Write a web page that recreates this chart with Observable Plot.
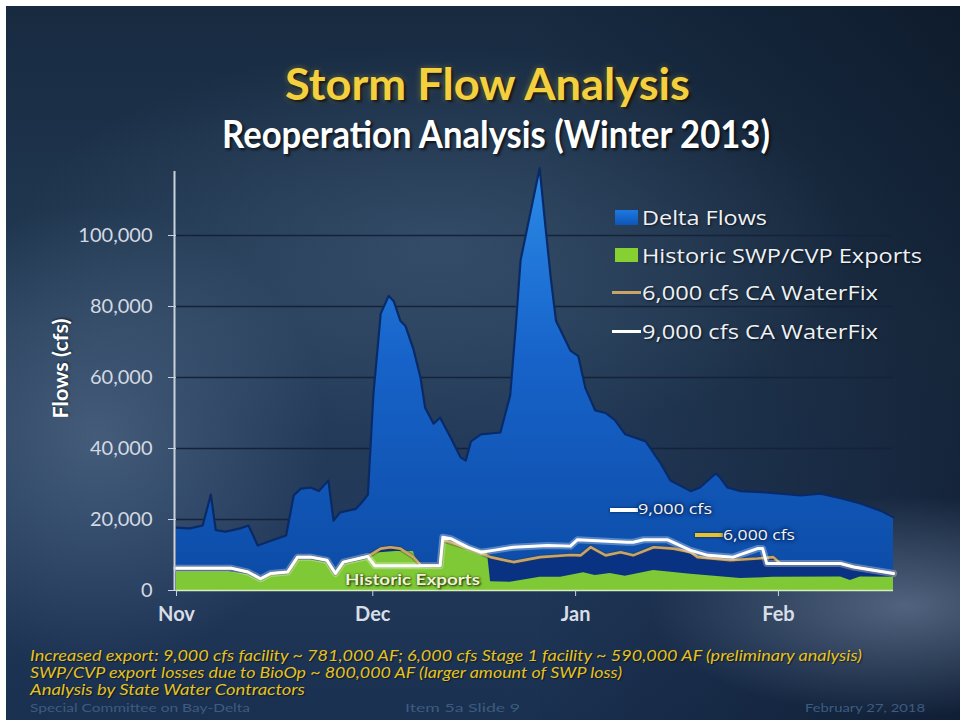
<!DOCTYPE html>
<html>
<head>
<meta charset="utf-8">
<script src="https://cdn.jsdelivr.net/npm/d3@7"></script>
<script src="https://cdn.jsdelivr.net/npm/@observablehq/plot@0.6"></script>
<style>
  html, body { margin: 0; padding: 0; background: #ffffff; }
  #page { position: relative; width: 965px; height: 726px; overflow: hidden; background: #ffffff; font-family: Lato, "Open Sans", sans-serif; }
  #slide { position: absolute; left: 6px; top: 6px; width: 954px; height: 714px;
    background:
      radial-gradient(ellipse 260px 110px at 900px 600px, rgba(130,150,180,0.55), rgba(130,150,180,0) 100%),
      radial-gradient(ellipse 230px 230px at 90px 430px, rgba(95,120,150,0.55), rgba(95,120,150,0) 100%),
      radial-gradient(ellipse 420px 200px at 430px 240px, rgba(75,100,130,0.45), rgba(75,100,130,0) 100%),
      linear-gradient(90deg, rgba(0,0,0,0) 55%, rgba(4,10,22,0.45) 100%),
      linear-gradient(180deg, #172a40 0%, #243c57 45%, #22395a 75%, #1a3050 100%);
  }
  .txt { position: absolute; white-space: nowrap; display: inline-block; transform-origin: 0 50%; }
  #chart { position: absolute; left: 0; top: 150px; }
  .sw { position: absolute; }
</style>
</head>
<body>
<div id="page">
  <div id="slide"></div>
  <div id="chart"></div>
</div>
<script>
// ---------------- data ----------------
const titleText = "Storm Flow Analysis";
const subtitleText = "Reoperation Analysis (Winter 2013)";
const yAxisTitle = "Flows (cfs)";
const seriesNames = ["Delta Flows", "Historic SWP/CVP Exports", "6,000 cfs CA WaterFix", "9,000 cfs CA WaterFix"];
const monthTicks = ["2012-11-01", "2012-12-01", "2013-01-01", "2013-02-01"];
const yTicks = [0, 20000, 40000, 60000, 80000, 100000];

const deltaFlows = [
  ["2012-11-01", 17700], ["2012-11-03", 17500], ["2012-11-05", 18300], ["2012-11-06T06", 27000],
  ["2012-11-07", 17000], ["2012-11-08T12", 16600], ["2012-11-10T18", 17500], ["2012-11-12", 18300],
  ["2012-11-13T10", 12700], ["2012-11-15T10", 14000], ["2012-11-17T18", 15500], ["2012-11-18T22", 26800],
  ["2012-11-20", 28700], ["2012-11-21T12", 29000], ["2012-11-22T18", 28000], ["2012-11-24T05", 31000],
  ["2012-11-25", 19700], ["2012-11-26", 22000], ["2012-11-28T10", 23000], ["2012-11-29T10", 25000],
  ["2012-11-30T06", 27000], ["2012-12-01T02", 55000], ["2012-12-02T05", 78000], ["2012-12-03T10", 83000],
  ["2012-12-04T05", 81500], ["2012-12-05T05", 76000], ["2012-12-06", 74500], ["2012-12-07T05", 68000],
  ["2012-12-08T07", 60000], ["2012-12-09", 51500], ["2012-12-10T07", 47000], ["2012-12-11T07", 48700],
  ["2012-12-12T22", 43000], ["2012-12-14T10", 37500], ["2012-12-15T05", 36600], ["2012-12-16", 42000],
  ["2012-12-17T12", 44000], ["2012-12-20T12", 44500], ["2012-12-22", 55000], ["2012-12-22T20", 74000],
  ["2012-12-23T14", 93000], ["2012-12-26T12", 119000], ["2012-12-27T10", 102000], ["2012-12-28T05", 88000],
  ["2012-12-29", 76000], ["2012-12-31T05", 67600], ["2013-01-01T10", 66000], ["2013-01-02T12", 57000],
  ["2013-01-04", 50700], ["2013-01-05T14", 50000], ["2013-01-07", 48000], ["2013-01-08T14", 44000],
  ["2013-01-11T17", 42000], ["2013-01-14", 35800], ["2013-01-15T12", 31000], ["2013-01-18T14", 28000],
  ["2013-01-20", 29000], ["2013-01-22T10", 33000], ["2013-01-23", 32000], ["2013-01-24T05", 29000],
  ["2013-01-26T05", 28000], ["2013-01-29T07", 27700], ["2013-02-01T07", 27300], ["2013-02-04T10", 26800],
  ["2013-02-07T10", 27300], ["2013-02-10T12", 26000], ["2013-02-13T12", 24500], ["2013-02-16T14", 22500],
  ["2013-02-18T14", 20600]
];

const historicExports = [
  ["2012-11-01", 5300], ["2012-11-09", 5300], ["2012-11-11T22", 4500], ["2012-11-13T20", 2800],
  ["2012-11-15T10", 4200], ["2012-11-18", 4500], ["2012-11-19T12", 8600], ["2012-11-21T12", 8600],
  ["2012-11-24", 7800], ["2012-11-25T07", 4000], ["2012-11-26T12", 7300], ["2012-11-30T05", 8800],
  ["2012-12-01T02", 10500], ["2012-12-04T12", 11000], ["2012-12-07T05", 11000], ["2012-12-08", 6500],
  ["2012-12-11T07", 6500], ["2012-12-11T19", 14000], ["2012-12-15T12", 12000], ["2012-12-18T12", 11000],
  ["2012-12-19", 2500], ["2012-12-22", 2300], ["2012-12-26T14", 3700], ["2012-12-29T17", 3700],
  ["2013-01-02T05", 5000], ["2013-01-04", 4200], ["2013-01-06T07", 4800], ["2013-01-08T14", 4000],
  ["2013-01-12T22", 5600], ["2013-01-18T14", 4600], ["2013-01-26T05", 3400], ["2013-01-31T05", 3700],
  ["2013-02-10T12", 3800], ["2013-02-12", 2800], ["2013-02-13T12", 3800], ["2013-02-18T14", 3700]
];

const waterFix9000 = [
  ["2012-11-01", 6300], ["2012-11-09T07", 6300], ["2012-11-11T22", 5200], ["2012-11-13T20", 3300],
  ["2012-11-15T10", 4800], ["2012-11-18", 5200], ["2012-11-19T12", 9400], ["2012-11-21T12", 9400],
  ["2012-11-24", 8500], ["2012-11-25T07", 4800], ["2012-11-26T12", 8000], ["2012-11-30T05", 9600],
  ["2012-12-01T07", 7000], ["2012-12-11T07", 7000], ["2012-12-11T17", 15000], ["2012-12-12T22", 14600],
  ["2012-12-15T12", 12200], ["2012-12-17T12", 10800], ["2012-12-19T10", 11300], ["2012-12-22T12", 12200],
  ["2012-12-27T17", 12700], ["2012-12-31T05", 12500], ["2013-01-01T07", 14300], ["2013-01-04T07", 14000],
  ["2013-01-08T22", 13600], ["2013-01-09T19", 13600], ["2013-01-11T10", 14300], ["2013-01-15", 14300],
  ["2013-01-18T14", 11300], ["2013-01-21T05", 9900], ["2013-01-25T02", 9400], ["2013-01-28T19", 11800],
  ["2013-01-29T14", 11800], ["2013-01-30T05", 7600], ["2013-02-10T12", 7600], ["2013-02-12T12", 6600],
  ["2013-02-18T14", 4800]
];

const waterFix6000 = [
  ["2012-11-01", 6300], ["2012-11-09T07", 6300], ["2012-11-11T22", 5200], ["2012-11-13T20", 3300],
  ["2012-11-15T10", 4800], ["2012-11-18", 5200], ["2012-11-19T12", 9400], ["2012-11-21T12", 9400],
  ["2012-11-24", 8500], ["2012-11-25T07", 4800], ["2012-11-26T12", 8000], ["2012-11-30T05", 9600],
  ["2012-12-01T02", 10500], ["2012-12-02T05", 11800], ["2012-12-03T17", 12200], ["2012-12-05T05", 11800],
  ["2012-12-07T05", 9400], ["2012-12-08T07", 7200], ["2012-12-11T07", 7000], ["2012-12-11T17", 14300],
  ["2012-12-12T22", 13500], ["2012-12-15T12", 12000], ["2012-12-17T12", 10500], ["2012-12-19", 9400],
  ["2012-12-22T12", 8000], ["2012-12-26T14", 9400], ["2012-12-31T05", 10000], ["2013-01-01T19", 9900],
  ["2013-01-03T07", 12200], ["2013-01-05T14", 9900], ["2013-01-07T21", 10800], ["2013-01-09T19", 9900],
  ["2013-01-12T22", 12200], ["2013-01-15T23", 11800], ["2013-01-18T14", 10800], ["2013-01-19T15", 9400],
  ["2013-01-24T16", 8500], ["2013-01-28T19", 9000], ["2013-01-31T05", 9400], ["2013-02-01T07", 7600],
  ["2013-02-10T12", 7600], ["2013-02-12T12", 6600], ["2013-02-18T14", 4800]
];

const annotation9000 = "9,000 cfs";
const annotation6000 = "6,000 cfs";
const annotationHistoric = "Historic Exports";
const notes = [
  "Increased export:  9,000 cfs facility ~ 781,000 AF; 6,000 cfs Stage 1 facility ~ 590,000 AF (preliminary analysis)",
  "SWP/CVP export losses due to BioOp ~ 800,000 AF (larger amount of SWP loss)",
  "Analysis by State Water Contractors"
];
const footer = ["Special Committee on Bay-Delta", "Item 5a     Slide 9", "February 27, 2018"];

// ---------------- helpers ----------------
const pDay = d3.utcParse("%Y-%m-%d");
const pHour = d3.utcParse("%Y-%m-%dT%H");
const parseDate = s => pHour(s) || pDay(s);
const rows = arr => arr.map(([d, v]) => ({date: parseDate(d), value: v}));

const delta = rows(deltaFlows);
const hist = rows(historicExports);
const wf9 = rows(waterFix9000);
const wf6 = rows(waterFix6000);
const ticksX = monthTicks.map(parseDate);
const xStart = parseDate("2012-11-01");
const xEnd = parseDate("2013-02-18T14");

// ---------------- chart ----------------
const chart = Plot.plot({
  width: 965,
  height: 490,
  marginLeft: 176,
  marginRight: 72,
  marginTop: 14,
  marginBottom: 50,
  style: {background: "transparent", color: "#d3d9e2", fontFamily: "Lato, sans-serif", overflow: "visible"},
  x: {type: "utc", domain: [xStart, xEnd]},
  y: {domain: [0, 120000]},
  marks: [
    Plot.ruleY(yTicks.filter(d => d > 0), {stroke: "#14233a", strokeWidth: 1.6}),
    Plot.areaY(delta, {x: "date", y: "value", fill: "url(#deltaGrad)"}),
    Plot.line(delta, {x: "date", y: "value", stroke: "#0a2a66", strokeWidth: 2.2, strokeLinejoin: "round"}),
    // darker band under the scenario lines
    Plot.areaY(wf6, {x: "date", y: "value", fill: "#0a3283"}),
    Plot.areaY(hist, {x: "date", y: "value", fill: "#80c936"}),
    Plot.line(wf6, {x: "date", y: "value", stroke: "#3b3a2a", strokeOpacity: 0.35, strokeWidth: 5, strokeLinejoin: "round"}),
    Plot.line(wf6, {x: "date", y: "value", stroke: "#c9a468", strokeWidth: 2.6, strokeLinejoin: "round"}),
    Plot.line(wf9, {x: "date", y: "value", stroke: "#ffffff", strokeOpacity: 0.3, strokeWidth: 7, strokeLinejoin: "round"}),
    Plot.line(wf9, {x: "date", y: "value", stroke: "#ffffff", strokeWidth: 3, strokeLinejoin: "round"}),
    Plot.ruleY([0], {stroke: "#d8ecc0", strokeWidth: 1.5}),
    Plot.ruleX([xStart], {y1: 0, y2: 118000, stroke: "#c9d1dc", strokeWidth: 2, dx: -2}),
    Plot.axisY({ticks: yTicks, tickFormat: d3.format(","), fontSize: 20, tickSize: 8, tickPadding: 16, stroke: "#c9d1dc", fill: "#d3d9e2", label: null}),
    Plot.axisX({ticks: ticksX, tickFormat: d3.utcFormat("%b"), fontSize: 20, fontWeight: "bold", tickSize: 6, tickPadding: 10, stroke: "#c9d1dc", fill: "#d8dee6", label: null})
  ]
});

// gradient for the Delta Flows area
const ns = "http://www.w3.org/2000/svg";
const defs = document.createElementNS(ns, "defs");
defs.innerHTML = `<linearGradient id="deltaGrad" x1="0" y1="0" x2="0" y2="1">
  <stop offset="0%" stop-color="#2b8ae8"/>
  <stop offset="45%" stop-color="#1763c9"/>
  <stop offset="100%" stop-color="#0c4ba6"/>
</linearGradient>`;
chart.insertBefore(defs, chart.firstChild);
document.getElementById("chart").appendChild(chart);

// ---------------- text & legend ----------------
const page = document.getElementById("page");
const fits = [];
function addText(text, o) {
  const el = document.createElement("span");
  el.className = "txt";
  el.textContent = text;
  const lh = Math.round(o.size * 1.25);
  Object.assign(el.style, {
    fontFamily: o.family || "Lato, sans-serif",
    fontSize: o.size + "px",
    fontWeight: o.weight || "normal",
    fontStyle: o.style || "normal",
    color: o.color || "#ffffff",
    lineHeight: lh + "px",
    height: lh + "px",
    top: (o.cy - lh / 2) + "px",
    left: o.x + "px",
    textShadow: o.shadow || "none"
  });
  if (o.rotate) el.style.transformOrigin = "50% 50%";
  page.appendChild(el);
  fits.push({el, o});
  return el;
}
function addBox(x, y, w, h, bg, extra) {
  const d = document.createElement("div");
  d.className = "sw";
  Object.assign(d.style, {left: x + "px", top: y + "px", width: w + "px", height: h + "px", background: bg}, extra || {});
  page.appendChild(d);
}

// titles
addText(titleText, {x: 285, cy: 83, w: 405, size: 44, weight: "bold", color: "#f4d03f",
  shadow: "2px 2px 3px rgba(0,0,0,0.7), 0 0 6px rgba(255,200,40,0.35)"});
addText(subtitleText, {x: 222, cy: 133, w: 548, size: 38, weight: "bold", color: "#ffffff",
  shadow: "2px 2px 3px rgba(0,0,0,0.7)"});

// y axis title (rotated)
addText(yAxisTitle, {x: 12, cy: 368, w: 100, size: 20, weight: "bold", color: "#ffffff", rotate: true,
  shadow: "1px 1px 2px rgba(0,0,0,0.5)"});

// legend
addBox(615, 210, 23, 15, "linear-gradient(180deg,#1e78e0,#0d55b8)");
addBox(615, 248, 23, 14, "#86d032");
addBox(612, 291, 29, 3, "#c9a468");
addBox(612, 330, 29, 3, "#ffffff");
const legendY = [217, 255, 292, 331];
const legendW = [125, 280, 236, 236];
seriesNames.forEach((s, i) => addText(s, {x: 642, cy: legendY[i], w: legendW[i], size: 20, family: "'Open Sans', sans-serif",
  color: "#eef1f5", shadow: "1px 1px 2px rgba(0,0,0,0.6)"}));

// in-chart annotations
addBox(610, 508, 28, 4, "#ffffff", {boxShadow: "0 0 3px rgba(0,0,0,0.6)"});
addText(annotation9000, {x: 638, cy: 509, w: 74, size: 14, family: "'Open Sans', sans-serif", color: "#f2f4f7",
  shadow: "0 0 3px #061a44, 0 0 5px #061a44"});
addBox(695, 533, 28, 4, "#e6c22c", {boxShadow: "0 0 3px rgba(0,0,0,0.6)"});
addText(annotation6000, {x: 723, cy: 535, w: 72, size: 14, family: "'Open Sans', sans-serif", color: "#f2f4f7",
  shadow: "0 0 3px #061a44, 0 0 5px #061a44"});
addText(annotationHistoric, {x: 345, cy: 579, w: 135, size: 16, color: "#eef4d2", weight: "bold",
  shadow: "0 0 2px #2a4a10, 1px 1px 2px #1a3008"});

// notes
const noteW = [832, 592, 275];
notes.forEach((n, i) => addText(n, {x: 30, cy: 655 + i * 17, w: noteW[i], size: 15, style: "italic", color: "#e6c21e",
  shadow: "1px 1px 1px rgba(0,0,0,0.5)"}));
// faint footer
const footX = [30, 405, 805], footW = [220, 115, 120];
footer.forEach((f, i) => addText(f, {x: footX[i], cy: 708, w: footW[i], size: 11, color: "#3c5c80"}));

function doFit() {
  for (const {el, o} of fits) {
    el.style.transform = "none";
    const w = el.getBoundingClientRect().width;
    const k = o.w / w;
    if (o.rotate) {
      el.style.left = (60 - w / 2) + "px";
      el.style.transform = `rotate(-90deg) scaleX(${k})`;
    } else {
      el.style.transform = `scaleX(${k})`;
    }
  }
}
doFit();
if (document.fonts && document.fonts.ready) document.fonts.ready.then(doFit);
</script>
</body>
</html>
